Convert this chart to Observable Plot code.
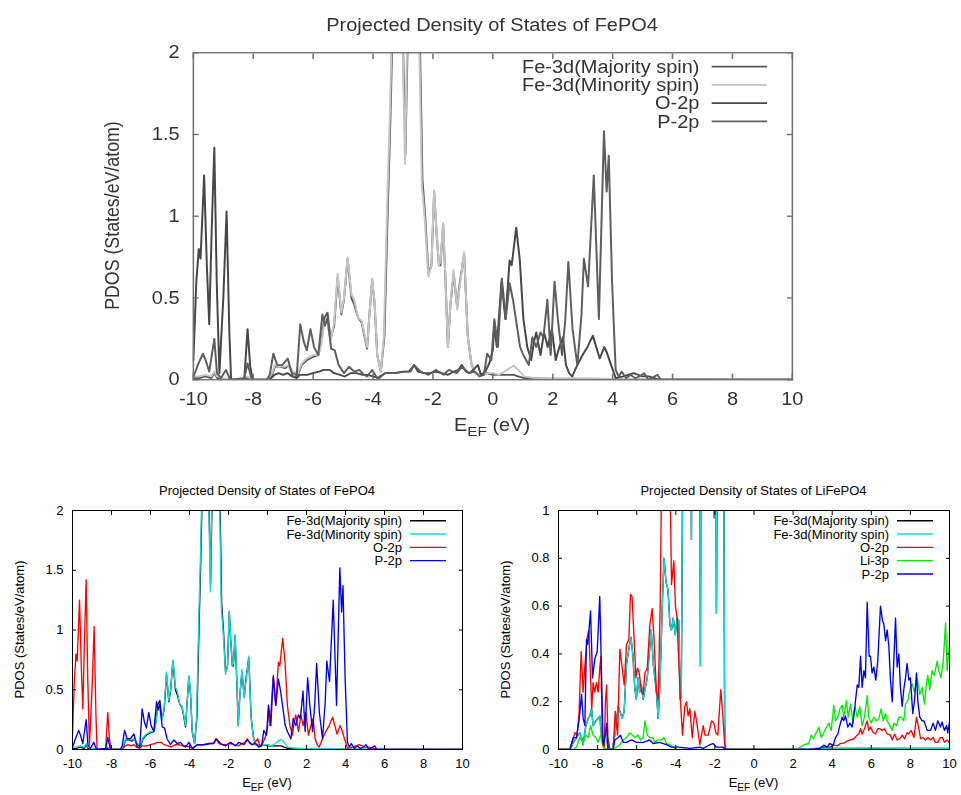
<!DOCTYPE html>
<html><head><meta charset="utf-8">
<script src="https://cdn.jsdelivr.net/npm/d3@7"></script>
<script src="https://cdn.jsdelivr.net/npm/@observablehq/plot@0.6"></script>
<style>
html,body{margin:0;padding:0;background:#fff;}
#root{position:relative;width:961px;height:795px;overflow:hidden;font-family:"Liberation Sans",Arial,sans-serif;}
.panel{position:absolute;}
</style></head><body><div id="root"></div>
<script>
// ---------- ticks ----------
const xTicks = [-10,-8,-6,-4,-2,0,2,4,6,8,10];
const yTicksFe = [0,0.5,1,1.5,2];
const yTicksLi = [0,0.2,0.4,0.6,0.8,1];

// ---------- FePO4 : [E (eV), PDOS] ----------
const feFe3dMajority = [[-10,0.01],[-9.8,0.01],[-9.6,0.02],[-9.4,0.01],[-9.3,0.04],[-9.2,0.01],[-9.0,0.0],[-8.5,0.0],[-8.2,0.01],[-8.0,0.0],[-7.5,0.0],[-7.37,0.03],[-7.28,0.08],[-7.11,0.08],[-6.94,0.07],[-6.82,0.09],[-6.68,0.04],[-6.51,0.03],[-6.38,0.09],[-6.21,0.12],[-6.0,0.14],[-5.83,0.15],[-5.74,0.22],[-5.62,0.38],[-5.52,0.41],[-5.42,0.25],[-5.3,0.33],[-5.18,0.63],[-5.06,0.4],[-4.97,0.49],[-4.85,0.74],[-4.72,0.5],[-4.63,0.46],[-4.5,0.38],[-4.38,0.35],[-4.2,0.19],[-4.12,0.4],[-4.03,0.61],[-3.95,0.47],[-3.86,0.15],[-3.74,0.05],[-3.62,0.27],[-3.5,1.1],[-3.42,1.6],[-3.33,2.3],[-3.18,2.9],[-3.03,2.3],[-2.92,1.38],[-2.83,2.2],[-2.68,3.1],[-2.53,2.7],[-2.43,2.0],[-2.35,1.22],[-2.26,1.0],[-2.15,0.65],[-2.05,0.7],[-1.96,1.15],[-1.88,0.9],[-1.8,0.7],[-1.75,0.7],[-1.66,0.95],[-1.58,0.6],[-1.5,0.2],[-1.42,0.45],[-1.31,0.65],[-1.19,0.44],[-1.12,0.57],[-0.96,0.77],[-0.84,0.27],[-0.72,0.1],[-0.6,0.04],[-0.4,0.03],[-0.2,0.04],[0.0,0.03],[0.2,0.03],[0.4,0.03],[0.55,0.03],[0.7,0.03],[0.85,0.02],[1.05,0.01],[1.4,0.01],[2.0,0.005],[3.0,0.005],[4.0,0.0],[10,0.0]];
const feFe3dMinority = [[-10,0.02],[-9.8,0.02],[-9.6,0.03],[-9.4,0.02],[-9.3,0.05],[-9.2,0.02],[-9.0,0.01],[-8.5,0.0],[-8.2,0.02],[-8.0,0.0],[-7.5,0.0],[-7.37,0.04],[-7.28,0.09],[-7.11,0.08],[-6.94,0.08],[-6.82,0.09],[-6.68,0.05],[-6.51,0.04],[-6.38,0.1],[-6.21,0.13],[-6.0,0.15],[-5.83,0.15],[-5.74,0.2],[-5.62,0.36],[-5.52,0.34],[-5.42,0.24],[-5.3,0.35],[-5.18,0.65],[-5.06,0.41],[-4.97,0.5],[-4.85,0.75],[-4.72,0.52],[-4.63,0.49],[-4.5,0.38],[-4.38,0.36],[-4.2,0.2],[-4.12,0.4],[-4.03,0.62],[-3.95,0.48],[-3.86,0.15],[-3.74,0.05],[-3.64,0.26],[-3.52,1.12],[-3.44,1.6],[-3.35,2.3],[-3.2,2.9],[-3.05,2.4],[-2.93,1.32],[-2.85,2.2],[-2.7,3.1],[-2.55,2.7],[-2.45,2.0],[-2.37,1.19],[-2.28,1.0],[-2.15,0.63],[-2.05,0.7],[-1.96,1.16],[-1.88,0.9],[-1.8,0.7],[-1.75,0.72],[-1.66,0.96],[-1.58,0.6],[-1.5,0.2],[-1.42,0.45],[-1.31,0.67],[-1.19,0.43],[-1.12,0.55],[-0.96,0.78],[-0.84,0.27],[-0.72,0.1],[-0.6,0.04],[-0.4,0.03],[-0.2,0.04],[0.0,0.04],[0.2,0.03],[0.4,0.05],[0.55,0.07],[0.7,0.085],[0.85,0.06],[1.05,0.02],[1.4,0.01],[2.0,0.01],[3.0,0.01],[4.0,0.005],[10,0.0]];
const feO2p = [[-10,0.12],[-9.9,0.6],[-9.82,0.8],[-9.76,0.74],[-9.64,1.25],[-9.55,0.7],[-9.47,0.34],[-9.39,0.9],[-9.3,1.42],[-9.22,0.6],[-9.13,0.04],[-9.0,0.5],[-8.89,1.03],[-8.8,0.3],[-8.74,0.0],[-8.3,0.0],[-8.19,0.31],[-8.1,0.08],[-8.02,0.0],[-7.5,0.0],[-7.4,0.01],[-7.3,0.03],[-7.15,0.04],[-7.0,0.03],[-6.85,0.04],[-6.7,0.02],[-6.55,0.01],[-6.45,0.03],[-6.2,0.03],[-6.0,0.04],[-5.8,0.05],[-5.65,0.06],[-5.45,0.06],[-5.3,0.04],[-5.1,0.03],[-4.95,0.02],[-4.75,0.04],[-4.55,0.04],[-4.35,0.03],[-4.2,0.03],[-4.0,0.02],[-3.8,0.01],[-3.6,0.04],[-3.3,0.04],[-3.0,0.05],[-2.8,0.05],[-2.63,0.09],[-2.5,0.05],[-2.3,0.04],[-2.1,0.04],[-1.9,0.05],[-1.7,0.04],[-1.5,0.03],[-1.3,0.05],[-1.15,0.06],[-1.04,0.09],[-0.9,0.05],[-0.79,0.04],[-0.65,0.06],[-0.5,0.09],[-0.4,0.03],[-0.25,0.05],[-0.12,0.1],[0.0,0.18],[0.05,0.35],[0.13,0.2],[0.29,0.6],[0.42,0.37],[0.56,0.73],[0.63,0.7],[0.78,0.93],[0.9,0.73],[1.02,0.37],[1.15,0.2],[1.28,0.12],[1.37,0.23],[1.45,0.29],[1.59,0.15],[1.71,0.29],[1.83,0.2],[1.97,0.31],[2.1,0.12],[2.22,0.2],[2.34,0.26],[2.44,0.09],[2.55,0.04],[2.65,0.02],[2.82,0.09],[2.99,0.15],[3.16,0.2],[3.34,0.27],[3.45,0.2],[3.57,0.13],[3.72,0.2],[3.8,0.17],[3.93,0.1],[4.1,0.01],[4.36,0.02],[4.7,0.04],[5.0,0.02],[5.21,0.02],[5.56,0.0],[10,0.0]];
const feP2p = [[-10,0.02],[-9.93,0.05],[-9.85,0.09],[-9.68,0.16],[-9.59,0.12],[-9.47,0.05],[-9.3,0.25],[-9.21,0.04],[-9.08,0.01],[-8.91,0.06],[-8.77,0.0],[-8.3,0.01],[-8.19,0.1],[-8.05,0.0],[-7.55,0.0],[-7.45,0.03],[-7.33,0.16],[-7.2,0.09],[-7.03,0.09],[-6.85,0.13],[-6.68,0.02],[-6.55,0.02],[-6.43,0.34],[-6.31,0.23],[-6.21,0.18],[-6.09,0.31],[-5.97,0.2],[-5.83,0.15],[-5.69,0.4],[-5.61,0.33],[-5.52,0.38],[-5.4,0.19],[-5.28,0.18],[-5.15,0.09],[-4.97,0.04],[-4.8,0.08],[-4.63,0.05],[-4.46,0.06],[-4.3,0.03],[-4.2,0.02],[-4.03,0.06],[-3.86,0.01],[-3.6,0.04],[-3.26,0.04],[-2.92,0.05],[-2.75,0.05],[-2.63,0.09],[-2.41,0.05],[-2.15,0.03],[-1.9,0.06],[-1.64,0.03],[-1.47,0.06],[-1.21,0.04],[-1.04,0.08],[-0.79,0.04],[-0.6,0.05],[-0.45,0.02],[-0.3,0.03],[-0.19,0.16],[-0.05,0.12],[0.05,0.37],[0.17,0.2],[0.3,0.62],[0.43,0.37],[0.56,0.59],[0.68,0.48],[0.77,0.37],[0.91,0.2],[1.02,0.15],[1.2,0.09],[1.32,0.26],[1.45,0.2],[1.59,0.29],[1.69,0.26],[1.82,0.49],[1.93,0.15],[2.06,0.6],[2.17,0.37],[2.31,0.15],[2.42,0.37],[2.52,0.72],[2.66,0.31],[2.82,0.09],[2.96,0.4],[3.04,0.74],[3.18,0.57],[3.37,1.25],[3.54,0.37],[3.71,1.52],[3.8,1.15],[3.87,1.37],[3.98,0.6],[4.1,0.06],[4.2,0.02],[4.3,0.05],[4.45,0.01],[4.6,0.03],[4.75,0.01],[4.9,0.02],[5.05,0.04],[5.2,0.0],[5.4,0.02],[5.5,0.03],[5.6,0.0],[10,0.0]];

// ---------- LiFePO4 : [E (eV), PDOS] ----------
const liFe3dMajority = [[-10,0],[-9.42,0],[-9.3,0.02],[-9.08,0.05],[-8.91,0.07],[-8.82,0.05],[-8.74,0.02],[-8.6,0.1],[-8.48,0.13],[-8.4,0.14],[-8.31,0.17],[-8.23,0.1],[-8.09,0.12],[-7.97,0.13],[-7.89,0.14],[-7.8,0.06],[-7.72,0.03],[-7.6,0.08],[-7.54,0.05],[-7.46,0.0],[-7.24,0.0],[-7.12,0.06],[-6.95,0.18],[-6.86,0.16],[-6.74,0.13],[-6.64,0.16],[-6.52,0.36],[-6.4,0.42],[-6.3,0.47],[-6.2,0.4],[-6.1,0.26],[-6.02,0.21],[-5.93,0.3],[-5.85,0.24],[-5.76,0.27],[-5.67,0.21],[-5.58,0.25],[-5.46,0.3],[-5.35,0.41],[-5.26,0.5],[-5.14,0.35],[-4.99,0.24],[-4.9,0.13],[-4.8,0.3],[-4.68,0.63],[-4.6,0.8],[-4.5,0.7],[-4.4,0.67],[-4.3,0.52],[-4.22,0.5],[-4.13,0.55],[-4.03,0.48],[-3.93,0.55],[-3.85,0.54],[-3.78,0.21],[-3.72,0.22],[-3.66,1.0],[-3.6,2.5],[-3.45,3.2],[-3.3,2.8],[-3.2,0.88],[-3.12,2.5],[-2.95,3.0],[-2.8,2.2],[-2.74,0.35],[-2.68,2.2],[-2.5,3.0],[-2.3,2.6],[-2.1,2.8],[-2.04,0.97],[-1.98,1.8],[-1.92,0.57],[-1.86,1.6],[-1.7,2.5],[-1.56,1.5],[-1.5,0.1],[-1.45,0.0],[2.0,0.0],[3.0,0.003],[4.0,0.004],[6.0,0.005],[8.0,0.004],[10,0.004]];
const liFe3dMinority = [[-10,0],[-9.42,0],[-9.3,0.02],[-9.08,0.05],[-8.91,0.07],[-8.82,0.05],[-8.74,0.02],[-8.6,0.1],[-8.48,0.13],[-8.4,0.14],[-8.31,0.17],[-8.23,0.1],[-8.09,0.12],[-7.97,0.13],[-7.89,0.14],[-7.8,0.06],[-7.72,0.03],[-7.6,0.08],[-7.54,0.05],[-7.46,0.0],[-7.24,0.0],[-7.12,0.06],[-6.95,0.18],[-6.86,0.16],[-6.74,0.13],[-6.64,0.16],[-6.52,0.36],[-6.4,0.42],[-6.3,0.47],[-6.2,0.4],[-6.1,0.26],[-6.02,0.21],[-5.93,0.3],[-5.85,0.24],[-5.76,0.27],[-5.67,0.21],[-5.58,0.25],[-5.46,0.3],[-5.35,0.41],[-5.26,0.5],[-5.14,0.35],[-4.99,0.24],[-4.9,0.13],[-4.8,0.3],[-4.68,0.63],[-4.6,0.8],[-4.5,0.7],[-4.4,0.67],[-4.3,0.52],[-4.22,0.5],[-4.13,0.55],[-4.03,0.48],[-3.93,0.55],[-3.85,0.54],[-3.78,0.21],[-3.72,0.22],[-3.66,1.0],[-3.6,2.5],[-3.45,3.2],[-3.3,2.8],[-3.2,0.88],[-3.12,2.5],[-2.95,3.0],[-2.8,2.2],[-2.74,0.35],[-2.68,2.2],[-2.5,3.0],[-2.3,2.6],[-2.1,2.8],[-2.04,0.97],[-1.98,1.8],[-1.92,0.57],[-1.86,1.6],[-1.7,2.5],[-1.56,1.5],[-1.5,0.1],[-1.45,0.0],[2.0,0.0],[3.0,0.004],[4.0,0.005],[6.0,0.006],[8.0,0.005],[10,0.005]];
const liO2p = [[-10,0],[-9.42,0],[-9.3,0.03],[-9.16,0.07],[-9.05,0.06],[-8.95,0.15],[-8.84,0.41],[-8.74,0.24],[-8.65,0.35],[-8.53,0.47],[-8.45,0.5],[-8.36,0.3],[-8.3,0.17],[-8.23,0.28],[-8.15,0.24],[-8.06,0.28],[-7.97,0.24],[-7.88,0.35],[-7.83,0.39],[-7.76,0.05],[-7.66,0.0],[-7.6,0.2],[-7.54,0.27],[-7.47,0.05],[-7.37,0.0],[-7.2,0.0],[-7.1,0.16],[-6.98,0.06],[-6.86,0.42],[-6.74,0.34],[-6.64,0.27],[-6.52,0.44],[-6.4,0.46],[-6.32,0.65],[-6.24,0.64],[-6.13,0.46],[-6.04,0.3],[-5.96,0.34],[-5.87,0.32],[-5.75,0.24],[-5.67,0.23],[-5.58,0.32],[-5.46,0.34],[-5.33,0.52],[-5.21,0.59],[-5.11,0.46],[-4.99,0.24],[-4.9,0.21],[-4.8,0.6],[-4.72,1.2],[-4.6,1.5],[-4.48,1.1],[-4.38,1.5],[-4.28,1.05],[-4.22,0.69],[-4.1,0.79],[-4.02,0.6],[-3.93,0.55],[-3.88,0.43],[-3.76,0.2],[-3.66,0.06],[-3.54,0.18],[-3.45,0.2],[-3.37,0.14],[-3.28,0.17],[-3.16,0.05],[-3.03,0.16],[-2.94,0.12],[-2.77,0.02],[-2.6,0.1],[-2.51,0.06],[-2.34,0.06],[-2.17,0.12],[-2.05,0.11],[-1.95,0.07],[-1.85,0.06],[-1.7,0.25],[-1.6,0.15],[-1.5,0.02],[-1.45,0.0],[2.5,0.0],[2.89,0.0],[3.3,0.005],[3.57,0.01],[3.91,0.01],[4.08,0.018],[4.25,0.015],[4.42,0.025],[4.59,0.027],[4.77,0.035],[4.94,0.04],[5.11,0.045],[5.28,0.06],[5.36,0.065],[5.45,0.087],[5.53,0.065],[5.65,0.087],[5.79,0.12],[5.87,0.08],[5.96,0.094],[6.1,0.07],[6.21,0.065],[6.33,0.087],[6.44,0.087],[6.56,0.08],[6.67,0.087],[6.81,0.065],[6.98,0.06],[7.07,0.04],[7.19,0.065],[7.32,0.04],[7.46,0.045],[7.58,0.06],[7.7,0.045],[7.83,0.07],[7.92,0.065],[8.04,0.08],[8.18,0.05],[8.31,0.135],[8.43,0.087],[8.52,0.045],[8.65,0.05],[8.77,0.04],[8.89,0.05],[9.03,0.04],[9.16,0.05],[9.28,0.03],[9.4,0.03],[9.54,0.05],[9.64,0.05],[9.74,0.03],[9.88,0.04],[10,0.027]];
const liLi3p = [[-10,0],[-9.25,0],[-9.08,0.01],[-8.91,0.05],[-8.74,0.03],[-8.6,0.06],[-8.48,0.05],[-8.36,0.1],[-8.23,0.06],[-8.09,0.05],[-7.97,0.03],[-7.85,0.06],[-7.72,0.01],[-7.54,0.0],[-7.12,0.005],[-6.86,0.02],[-6.69,0.04],[-6.52,0.05],[-6.35,0.07],[-6.21,0.06],[-6.09,0.05],[-5.93,0.06],[-5.8,0.04],[-5.67,0.05],[-5.58,0.12],[-5.46,0.06],[-5.33,0.05],[-5.19,0.05],[-5.07,0.03],[-4.9,0.04],[-4.73,0.04],[-4.61,0.05],[-4.48,0.025],[-4.31,0.02],[-4.13,0.01],[-3.96,0.0],[2.05,0.0],[2.21,0.003],[2.38,0.01],[2.55,0.02],[2.8,0.025],[2.92,0.06],[3.03,0.045],[3.15,0.065],[3.32,0.094],[3.44,0.05],[3.57,0.07],[3.71,0.094],[3.83,0.11],[3.95,0.08],[4.08,0.185],[4.17,0.12],[4.29,0.135],[4.39,0.17],[4.51,0.185],[4.59,0.135],[4.73,0.205],[4.82,0.135],[4.94,0.19],[5.07,0.11],[5.16,0.18],[5.28,0.135],[5.41,0.18],[5.53,0.1],[5.65,0.135],[5.79,0.225],[5.87,0.135],[5.99,0.11],[6.13,0.135],[6.27,0.12],[6.39,0.13],[6.5,0.17],[6.61,0.12],[6.73,0.15],[6.81,0.12],[6.95,0.1],[7.07,0.08],[7.15,0.11],[7.29,0.1],[7.41,0.135],[7.54,0.135],[7.66,0.12],[7.75,0.19],[7.87,0.205],[7.97,0.25],[8.09,0.275],[8.21,0.24],[8.35,0.3],[8.48,0.23],[8.6,0.26],[8.72,0.19],[8.82,0.275],[8.89,0.31],[8.99,0.25],[9.11,0.33],[9.23,0.31],[9.37,0.37],[9.45,0.33],[9.57,0.3],[9.68,0.37],[9.8,0.53],[9.88,0.33],[9.98,0.43],[10,0.43]];
const liP2p = [[-10,0],[-9.42,0],[-9.25,0.05],[-9.08,0.05],[-8.94,0.13],[-8.82,0.23],[-8.74,0.13],[-8.65,0.1],[-8.57,0.46],[-8.5,0.44],[-8.36,0.58],[-8.26,0.3],[-8.14,0.38],[-8.02,0.41],[-7.89,0.64],[-7.8,0.32],[-7.72,0.02],[-7.63,0.05],[-7.54,0.11],[-7.46,0.0],[-7.2,0.0],[-7.12,0.04],[-6.95,0.05],[-6.83,0.06],[-6.69,0.03],[-6.52,0.03],[-6.27,0.04],[-6.01,0.03],[-5.67,0.03],[-5.33,0.04],[-5.16,0.025],[-4.82,0.03],[-4.48,0.02],[-4.22,0.01],[-3.88,0.01],[-3.28,0.005],[-2.77,0.01],[-2.6,0.005],[-2.26,0.02],[-2.09,0.025],[-1.92,0.01],[-1.6,0.01],[-1.45,0.0],[3.0,0.0],[3.4,0.006],[3.57,0.018],[3.74,0.01],[3.88,0.025],[4.05,0.018],[4.17,0.05],[4.29,0.065],[4.42,0.11],[4.51,0.135],[4.59,0.12],[4.68,0.14],[4.8,0.094],[4.9,0.11],[5.02,0.094],[5.16,0.18],[5.28,0.27],[5.36,0.26],[5.45,0.39],[5.53,0.26],[5.62,0.33],[5.7,0.3],[5.79,0.615],[5.89,0.39],[5.96,0.39],[6.04,0.32],[6.13,0.345],[6.23,0.29],[6.33,0.37],[6.47,0.6],[6.57,0.54],[6.64,0.525],[6.73,0.455],[6.81,0.5],[6.9,0.43],[6.98,0.29],[7.07,0.2],[7.15,0.37],[7.24,0.55],[7.32,0.345],[7.41,0.4],[7.49,0.26],[7.58,0.18],[7.66,0.25],[7.75,0.3],[7.83,0.36],[7.92,0.29],[8.0,0.3],[8.12,0.15],[8.21,0.205],[8.31,0.32],[8.38,0.2],[8.48,0.135],[8.6,0.12],[8.69,0.12],[8.86,0.08],[9.03,0.08],[9.16,0.11],[9.28,0.08],[9.4,0.12],[9.54,0.094],[9.62,0.115],[9.74,0.08],[9.85,0.1],[9.91,0.07],[10,0.115]];

// ---------- panel builder ----------
const ML = 72, MT = 30, MR = 18, MB = 46, FH = 239;
const FONT = "'Liberation Sans', Arial, sans-serif";

function makePanel({title, frameW, yMax, yTicks, series, frameColor, textColor, lineWidth}) {
  const W = ML + frameW + MR, H = MT + FH + MB;
  const fmt = d => `${d}`;
  const marks = series.map(s => Plot.line(s.data, {x: d => d[0], y: d => d[1], stroke: s.color, strokeWidth: lineWidth, clip: true}));
  marks.push(
    Plot.frame({stroke: frameColor, strokeWidth: 1}),
    Plot.axisX(xTicks, {anchor: "bottom", tickSize: -4, tickPadding: 13, tickFormat: fmt, label: null, fill: textColor, stroke: frameColor, fontSize: 13, fontFamily: FONT}),
    Plot.axisX(xTicks, {anchor: "top", tickSize: -4, tickFormat: () => "", label: null, stroke: frameColor}),
    Plot.axisY(yTicks, {anchor: "left", tickSize: -4, tickPadding: 13, tickFormat: fmt, label: null, fill: textColor, stroke: frameColor, fontSize: 13, fontFamily: FONT}),
    Plot.axisY(yTicks, {anchor: "right", tickSize: -4, tickFormat: () => "", label: null, stroke: frameColor})
  );
  const svgNode = Plot.plot({
    width: W, height: H,
    marginLeft: ML, marginRight: MR, marginTop: MT, marginBottom: MB,
    x: {domain: [-10, 10]},
    y: {domain: [0, yMax]},
    style: {fontFamily: FONT, fontSize: "13px", color: textColor, background: "transparent", overflow: "visible"},
    marks
  });
  const svg = d3.select(svgNode);
  const g = svg.append("g").attr("font-family", FONT).attr("font-size", 13).attr("fill", textColor);
  // title
  g.append("text").attr("x", ML + frameW / 2).attr("y", MT - 15.5).attr("text-anchor", "middle").text(title);
  // x label with subscript
  const xl = g.append("text").attr("x", ML + frameW / 2).attr("y", MT + FH + 38).attr("text-anchor", "middle");
  xl.append("tspan").text("E");
  xl.append("tspan").attr("dy", 4).attr("font-size", 10).text("EF");
  xl.append("tspan").attr("dy", -4).text(" (eV)");
  // y label
  g.append("text").attr("transform", `translate(${24},${MT + FH / 2}) rotate(-90)`).attr("text-anchor", "middle").text("PDOS (States/eV/atom)");
  // legend
  const lg = svg.append("g").attr("font-family", FONT).attr("font-size", 13);
  series.forEach((s, i) => {
    const cy = MT + 10.7 + 13.33 * i;
    lg.append("text").attr("x", ML + frameW - 60).attr("y", cy + 4.6).attr("text-anchor", "end").attr("fill", textColor).text(s.name);
    lg.append("line").attr("x1", ML + frameW - 52).attr("x2", ML + frameW - 16).attr("y1", cy).attr("y2", cy)
      .attr("stroke", s.color).attr("stroke-width", lineWidth);
  });
  return {node: svgNode, W, H};
}

const root = document.getElementById("root");
function place(p, left, top, extra) {
  const div = document.createElement("div");
  div.className = "panel";
  div.style.left = left + "px";
  div.style.top = top + "px";
  div.style.width = p.W + "px";
  div.style.height = p.H + "px";
  if (extra) Object.assign(div.style, extra);
  div.appendChild(p.node);
  root.appendChild(div);
}

const feTitle = "Projected Density of States of FePO4";
// top (grayscale, stretched)
const topPanel = makePanel({
  title: feTitle, frameW: 390, yMax: 2, yTicks: yTicksFe, frameColor: "#707070", textColor: "#333", lineWidth: 1.3,
  series: [
    {name: "Fe-3d(Majority spin)", data: feFe3dMajority, color: "#555"},
    {name: "Fe-3d(Minority spin)", data: feFe3dMinority, color: "#c4c4c4"},
    {name: "O-2p", data: feO2p, color: "#474747"},
    {name: "P-2p", data: feP2p, color: "#5e5e5e"}
  ]
});
const sx = 599 / 390, sy = 327 / 239;
place(topPanel, 193 - ML * sx, 52 - MT * sy, {transform: `scale(${sx},${sy})`, transformOrigin: "0 0", filter: "blur(0.35px)"});

// bottom-left
const blPanel = makePanel({
  title: feTitle, frameW: 390, yMax: 2, yTicks: yTicksFe, frameColor: "#000", textColor: "#000", lineWidth: 1.35,
  series: [
    {name: "Fe-3d(Majority spin)", data: feFe3dMajority, color: "#000"},
    {name: "Fe-3d(Minority spin)", data: feFe3dMinority, color: "#14d8d8"},
    {name: "O-2p", data: feO2p, color: "#f00"},
    {name: "P-2p", data: feP2p, color: "#0000f0"}
  ]
});
place(blPanel, 0, 480);

// bottom-right
const brPanel = makePanel({
  title: "Projected Density of States of LiFePO4", frameW: 391, yMax: 1, yTicks: yTicksLi, frameColor: "#000", textColor: "#000", lineWidth: 1.35,
  series: [
    {name: "Fe-3d(Majority spin)", data: liFe3dMajority, color: "#000"},
    {name: "Fe-3d(Minority spin)", data: liFe3dMinority, color: "#14d8d8"},
    {name: "O-2p", data: liO2p, color: "#f00"},
    {name: "Li-3p", data: liLi3p, color: "#00ee00"},
    {name: "P-2p", data: liP2p, color: "#0000f0"}
  ]
});
place(brPanel, 558 - ML, 480);
</script></body></html>
